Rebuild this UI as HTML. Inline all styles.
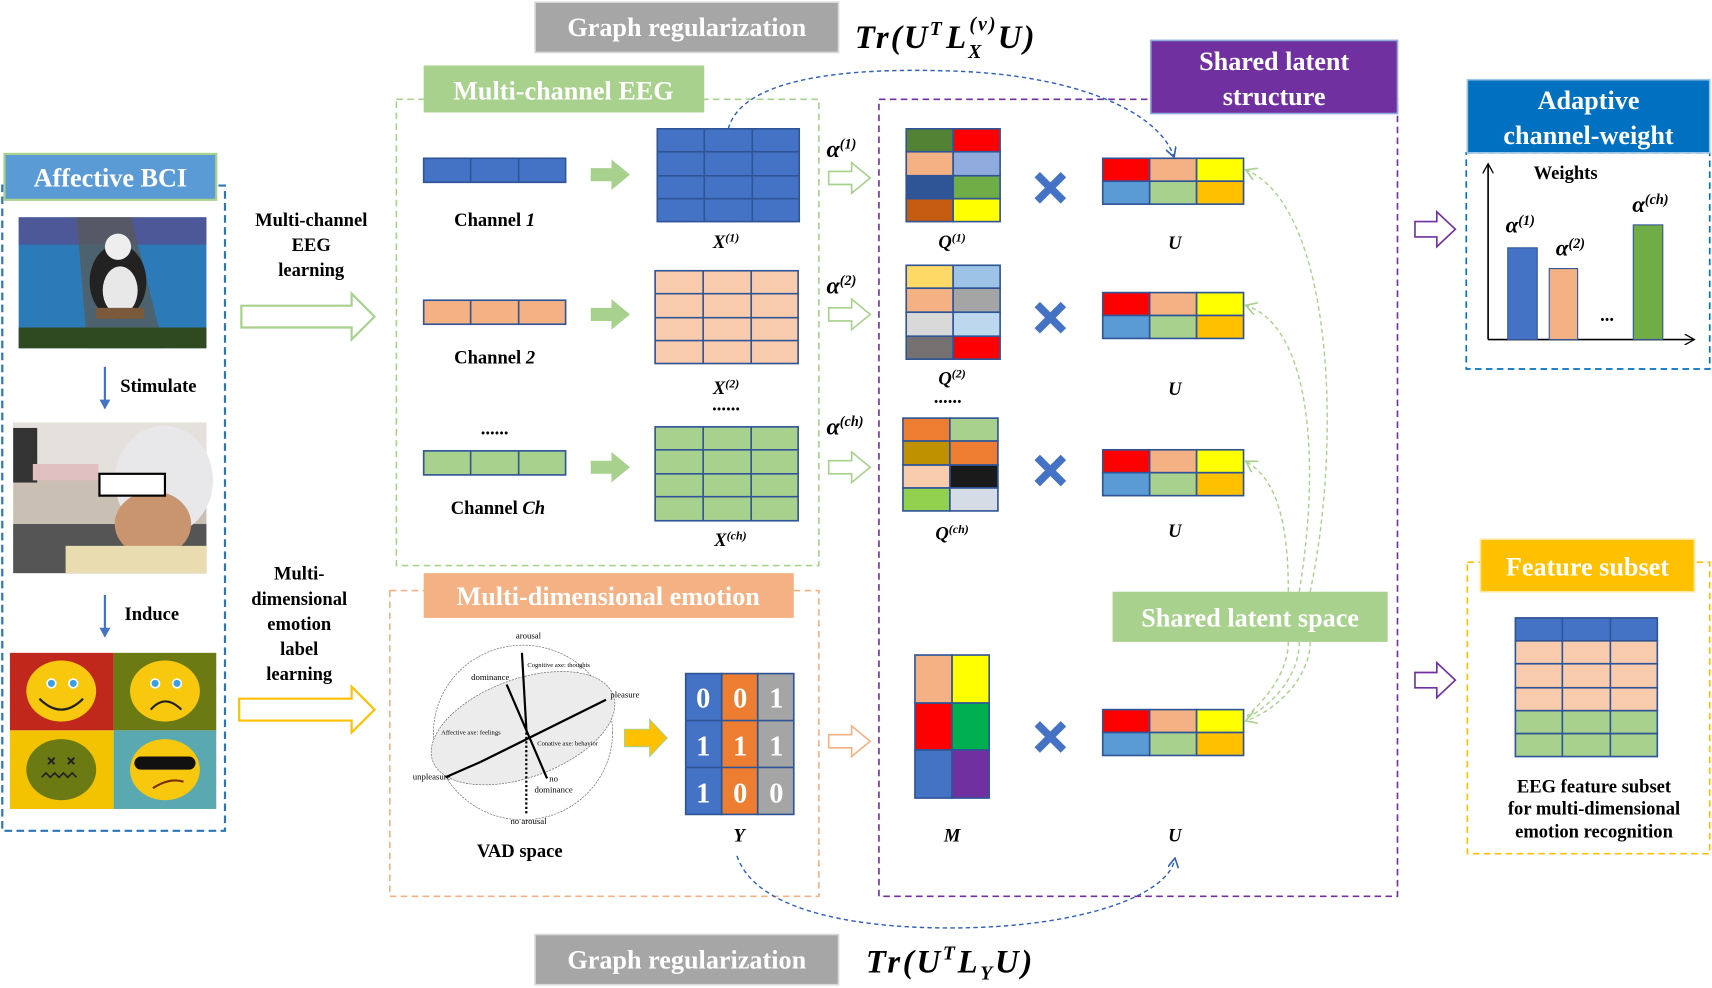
<!DOCTYPE html>
<html><head><meta charset="utf-8">
<style>
html,body{margin:0;padding:0;background:#fff;width:1712px;height:988px;overflow:hidden}
svg{display:block}
text{font-family:"Liberation Serif",serif;font-weight:bold}
.lbl{fill:#fff;font-size:24px}
.t{font-size:17px;fill:#000}
.it{font-style:italic}
</style></head><body>
<svg width="1712" height="988" viewBox="0 0 1568 905" xmlns="http://www.w3.org/2000/svg">
<defs>
<marker id="ab" markerWidth="10" markerHeight="10" refX="8" refY="5" orient="auto" markerUnits="userSpaceOnUse"><path d="M0,0 L9,5 L0,10" fill="none" stroke="#2f5fb8" stroke-width="1.5"/></marker>
<marker id="ag" markerWidth="12" markerHeight="12" refX="9" refY="6" orient="auto" markerUnits="userSpaceOnUse"><path d="M0,0 L10,6 L0,12" fill="none" stroke="#a9d18e" stroke-width="1.5"/></marker>
<marker id="ak" markerWidth="10" markerHeight="10" refX="8" refY="5" orient="auto" markerUnits="userSpaceOnUse"><path d="M0,0 L9,5 L0,10" fill="none" stroke="#000" stroke-width="1.2"/></marker>
<marker id="abl" markerWidth="10" markerHeight="10" refX="8" refY="5" orient="auto" markerUnits="userSpaceOnUse"><path d="M0,0 L9,5 L0,10 Z" fill="#4472c4"/></marker>
</defs>

<!-- Affective BCI -->
<rect x="2" y="170" width="204" height="591" fill="none" stroke="#2e75b6" stroke-width="2" stroke-dasharray="7,4"/>
<rect x="4" y="141" width="194" height="42" fill="#5b9bd5" stroke="#a9d18e" stroke-width="2"/>
<text x="101" y="171" text-anchor="middle" class="lbl">Affective BCI</text>
<!-- panda photo -->
<rect x="17" y="199" width="172" height="120" fill="#2c7ab8"/>
<rect x="17" y="199" width="172" height="25" fill="#5a4a8a" opacity=".7"/>
<path d="M70,199 L80,319 L150,319 L120,199 Z" fill="#5a5a50" opacity=".7"/>
<rect x="17" y="300" width="172" height="19" fill="#2f4a20"/>
<ellipse cx="108" cy="258" rx="26" ry="34" fill="#222"/>
<ellipse cx="110" cy="266" rx="16" ry="22" fill="#e8e8e8"/>
<circle cx="108" cy="226" r="12" fill="#eee"/>
<rect x="88" y="282" width="44" height="10" fill="#7a5a3a"/>
<line x1="96" y1="336" x2="96" y2="374" stroke="#4472c4" stroke-width="2" marker-end="url(#abl)"/>
<text x="145" y="359" text-anchor="middle" class="t">Stimulate</text>
<!-- eeg photo -->
<rect x="12" y="387" width="177" height="138" fill="#c9bfb2"/>
<rect x="12" y="387" width="177" height="50" fill="#e4e1dc"/>
<rect x="12" y="480" width="177" height="45" fill="#555"/>
<rect x="12" y="392" width="22" height="50" fill="#333"/>
<ellipse cx="150" cy="440" rx="45" ry="50" fill="#e8e8ea"/>
<ellipse cx="140" cy="480" rx="35" ry="30" fill="#c8956e"/>
<rect x="60" y="500" width="129" height="25" fill="#e8dcb0"/>
<rect x="30" y="425" width="60" height="15" fill="#e0c0c0"/>
<rect x="91" y="434" width="60" height="20" fill="#fff" stroke="#000" stroke-width="2"/>
<line x1="96" y1="545" x2="96" y2="583" stroke="#4472c4" stroke-width="2" marker-end="url(#abl)"/>
<text x="139" y="568" text-anchor="middle" class="t">Induce</text>
<!-- emoji -->
<rect x="9" y="598" width="95" height="71" fill="#c0281c"/>
<rect x="104" y="598" width="94" height="71" fill="#6b7a12"/>
<rect x="9" y="669" width="95" height="72" fill="#f3c200"/>
<rect x="104" y="669" width="94" height="72" fill="#5aa8b0"/>
<ellipse cx="56" cy="633" rx="32" ry="28" fill="#f7c80e"/>
<ellipse cx="151" cy="633" rx="32" ry="28" fill="#f7c80e"/>
<ellipse cx="56" cy="705" rx="32" ry="28" fill="#6b7a12"/>
<ellipse cx="151" cy="705" rx="32" ry="28" fill="#f7c80e"/>
<g fill="#3aa0e0" stroke="#fff" stroke-width="1.5">
<circle cx="47" cy="626" r="4"/><circle cx="67" cy="626" r="4"/>
<circle cx="142" cy="626" r="4"/><circle cx="162" cy="626" r="4"/>
</g>
<path d="M36,640 Q56,660 76,640" fill="none" stroke="#222" stroke-width="2"/>
<path d="M138,650 Q151,635 166,650" fill="none" stroke="#222" stroke-width="2"/>
<path d="M44,694 l6,6 m0,-6 l-6,6 M62,694 l6,6 m0,-6 l-6,6" stroke="#222" stroke-width="1.8"/>
<rect x="123" y="693" width="56" height="12" rx="6" fill="#111"/>
<path d="M38,712 l4,-4 l4,4 l4,-4 l4,4 l4,-4 l4,4 l4,-4 l4,4" fill="none" stroke="#222" stroke-width="1.5"/>
<path d="M140,722 Q155,712 168,716" fill="none" stroke="#7a3010" stroke-width="2"/>

<!-- learning texts -->
<text x="285" y="207" text-anchor="middle" class="t">Multi-channel</text>
<text x="285" y="230" text-anchor="middle" class="t">EEG</text>
<text x="285" y="253" text-anchor="middle" class="t">learning</text>
<path d="M221,280 H322 V269 L343,290 L322,311 V300 H221 Z" fill="#fff" stroke="#a9d18e" stroke-width="2"/>
<text x="274" y="531" text-anchor="middle" class="t">Multi-</text>
<text x="274" y="554" text-anchor="middle" class="t">dimensional</text>
<text x="274" y="577" text-anchor="middle" class="t">emotion</text>
<text x="274" y="600" text-anchor="middle" class="t">label</text>
<text x="274" y="623" text-anchor="middle" class="t">learning</text>
<path d="M219,640 H322 V629 L343,650 L322,671 V660 H219 Z" fill="#fff" stroke="#ffc000" stroke-width="2"/>

<!-- Multi-channel EEG box -->
<rect x="363" y="91" width="387" height="427" fill="none" stroke="#a9d18e" stroke-width="1.5" stroke-dasharray="6,4"/>
<rect x="388" y="60" width="257" height="43" fill="#a9d18e"/>
<text x="516" y="91" text-anchor="middle" class="lbl">Multi-channel EEG</text>
<g stroke="#2f5597" stroke-width="1.5">
<rect x="388" y="145" width="130" height="22" fill="#4472c4"/><line x1="431" y1="145" x2="431" y2="167"/><line x1="475" y1="145" x2="475" y2="167"/>
</g>
<g stroke="#2f5597" stroke-width="1.5">
<rect x="388" y="275" width="130" height="22" fill="#f4b183"/><line x1="431" y1="275" x2="431" y2="297"/><line x1="475" y1="275" x2="475" y2="297"/>
</g>
<g stroke="#2f5597" stroke-width="1.5">
<rect x="388" y="413" width="130" height="22" fill="#a9d18e"/><line x1="431" y1="413" x2="431" y2="435"/><line x1="475" y1="413" x2="475" y2="435"/>
</g>
<text x="453" y="207" text-anchor="middle" class="t">Channel <tspan class="it">1</tspan></text>
<text x="453" y="333" text-anchor="middle" class="t">Channel <tspan class="it">2</tspan></text>
<text x="453" y="398" text-anchor="middle" class="t">......</text>
<text x="456" y="471" text-anchor="middle" class="t">Channel <tspan class="it">Ch</tspan></text>
<g fill="#a9d18e">
<path d="M541,154 H560 V146 L577,160 L560,174 V166 H541 Z"/>
<path d="M541,282 H560 V274 L577,288 L560,302 V294 H541 Z"/>
<path d="M541,422 H560 V414 L577,428 L560,442 V434 H541 Z"/>
</g>
<!-- X matrices -->
<g stroke="#2f5597" stroke-width="1.5">
<rect x="602" y="118" width="130" height="85" fill="#4472c4"/>
<line x1="645" y1="118" x2="645" y2="203"/><line x1="689" y1="118" x2="689" y2="203"/>
<line x1="602" y1="139" x2="732" y2="139"/><line x1="602" y1="161" x2="732" y2="161"/><line x1="602" y1="182" x2="732" y2="182"/>
<rect x="600" y="248" width="131" height="85" fill="#f8cbad"/>
<line x1="644" y1="248" x2="644" y2="333"/><line x1="688" y1="248" x2="688" y2="333"/>
<line x1="600" y1="269" x2="731" y2="269"/><line x1="600" y1="291" x2="731" y2="291"/><line x1="600" y1="312" x2="731" y2="312"/>
<rect x="600" y="391" width="131" height="86" fill="#a9d18e"/>
<line x1="644" y1="391" x2="644" y2="477"/><line x1="688" y1="391" x2="688" y2="477"/>
<line x1="600" y1="412" x2="731" y2="412"/><line x1="600" y1="434" x2="731" y2="434"/><line x1="600" y1="455" x2="731" y2="455"/>
</g>
<text x="665" y="227" text-anchor="middle" class="t it">X<tspan font-size="11" dy="-6">(1)</tspan></text>
<text x="665" y="361" text-anchor="middle" class="t it">X<tspan font-size="11" dy="-6">(2)</tspan></text>
<text x="665" y="376" text-anchor="middle" class="t">......</text>
<text x="669" y="500" text-anchor="middle" class="t it">X<tspan font-size="11" dy="-6">(ch)</tspan></text>

<!-- Multi-dimensional emotion -->
<rect x="357" y="541" width="393" height="280" fill="none" stroke="#f4b183" stroke-width="1.5" stroke-dasharray="6,4"/>
<rect x="388" y="525" width="339" height="41" fill="#f4b183"/>
<text x="557" y="554" text-anchor="middle" class="lbl">Multi-dimensional emotion</text>
<!-- VAD -->
<g font-family="Liberation Sans,sans-serif" font-size="8" fill="#000">
<ellipse cx="479" cy="671" rx="82" ry="80" fill="none" stroke="#666" stroke-width="0.6" stroke-dasharray="2,1"/>
<ellipse cx="479" cy="667" rx="88" ry="45" transform="rotate(-20 479 667)" fill="#ececec" stroke="#666" stroke-width="0.6" stroke-dasharray="2,1"/>
<line x1="478" y1="598" x2="482" y2="667" stroke="#000" stroke-width="2"/>
<line x1="482" y1="667" x2="482" y2="745" stroke="#000" stroke-width="2" stroke-dasharray="2,2"/>
<line x1="440" y1="698" x2="555" y2="641" stroke="#000" stroke-width="2"/>
<line x1="440" y1="698" x2="408" y2="712" stroke="#000" stroke-width="2"/>
<line x1="464" y1="627" x2="501" y2="713" stroke="#000" stroke-width="2"/>
<text x="484" y="585" text-anchor="middle" style="font-weight:normal">arousal</text>
<text x="449" y="623" text-anchor="middle" style="font-weight:normal">dominance</text>
<text x="559" y="639" style="font-weight:normal">pleasure</text>
<text x="378" y="714" style="font-weight:normal">unpleasure</text>
<text x="507" y="716" text-anchor="middle" style="font-weight:normal">no</text>
<text x="507" y="726" text-anchor="middle" style="font-weight:normal">dominance</text>
<text x="484" y="755" text-anchor="middle" style="font-weight:normal">no arousal</text>
<text x="483" y="611" font-size="6" style="font-weight:normal">Cognitive axe: thoughts</text>
<text x="404" y="673" font-size="6" style="font-weight:normal">Affective axe: feelings</text>
<text x="492" y="683" font-size="6" style="font-weight:normal">Conative axe: behavior</text>
</g>
<text x="476" y="785" text-anchor="middle" class="t">VAD space</text>
<path d="M572,668 H595 V659 L611,676 L595,693 V684 H572 Z" fill="#ffc000" stroke="#a9d18e" stroke-width="1"/>
<!-- Y matrix -->
<g stroke="#2f5597" stroke-width="1.5">
<rect x="628" y="617" width="33" height="129" fill="#4472c4"/>
<rect x="661" y="617" width="33" height="129" fill="#ed7d31"/>
<rect x="694" y="617" width="33" height="129" fill="#a5a5a5"/>
<line x1="628" y1="660" x2="727" y2="660"/><line x1="628" y1="703" x2="727" y2="703"/>
</g>
<g fill="#fff" font-size="26" text-anchor="middle">
<text x="644" y="648">0</text><text x="678" y="648">0</text><text x="711" y="648">1</text>
<text x="644" y="692">1</text><text x="678" y="692">1</text><text x="711" y="692">1</text>
<text x="644" y="735">1</text><text x="678" y="735">0</text><text x="711" y="735">0</text>
</g>
<text x="677" y="771" text-anchor="middle" class="t it">Y</text>

<!-- alphas -->
<text x="757" y="144" class="it" font-size="22">α<tspan font-size="13" dy="-8">(1)</tspan></text>
<text x="757" y="269" class="it" font-size="22">α<tspan font-size="13" dy="-8">(2)</tspan></text>
<text x="757" y="398" class="it" font-size="22">α<tspan font-size="13" dy="-8">(ch)</tspan></text>
<g fill="#fff" stroke="#a9d18e" stroke-width="1.5">
<path d="M759,157 H780 V149 L797,163 L780,177 V169 H759 Z"/>
<path d="M759,282 H780 V274 L797,288 L780,302 V294 H759 Z"/>
<path d="M759,422 H780 V414 L797,428 L780,442 V434 H759 Z"/>
</g>
<path d="M759,673 H780 V665 L797,679 L780,693 V685 H759 Z" fill="#fff" stroke="#f4b183" stroke-width="1.5"/>

<!-- Shared latent structure -->
<rect x="805" y="91" width="475" height="730" fill="none" stroke="#7030a0" stroke-width="1.5" stroke-dasharray="6,4"/>
<rect x="1054" y="37" width="226" height="67" fill="#7030a0" stroke="#8faadc" stroke-width="1.5"/>
<text x="1167" y="64" text-anchor="middle" class="lbl">Shared latent</text>
<text x="1167" y="96" text-anchor="middle" class="lbl">structure</text>

<!-- Q matrices -->
<g stroke="#2f5597" stroke-width="1.5">
<rect x="830" y="118" width="43" height="21" fill="#548235"/><rect x="873" y="118" width="43" height="21" fill="#ff0000"/>
<rect x="830" y="139" width="43" height="22" fill="#f4b183"/><rect x="873" y="139" width="43" height="22" fill="#8faadc"/>
<rect x="830" y="161" width="43" height="21" fill="#2f5597"/><rect x="873" y="161" width="43" height="21" fill="#70ad47"/>
<rect x="830" y="182" width="43" height="21" fill="#c55a11"/><rect x="873" y="182" width="43" height="21" fill="#ffff00"/>

<rect x="830" y="243" width="43" height="21" fill="#ffd966"/><rect x="873" y="243" width="43" height="21" fill="#9dc3e6"/>
<rect x="830" y="264" width="43" height="22" fill="#f4b183"/><rect x="873" y="264" width="43" height="22" fill="#a5a5a5"/>
<rect x="830" y="286" width="43" height="22" fill="#d9d9d9"/><rect x="873" y="286" width="43" height="22" fill="#bdd7ee"/>
<rect x="830" y="308" width="43" height="21" fill="#767171"/><rect x="873" y="308" width="43" height="21" fill="#ff0000"/>

<rect x="827" y="383" width="43" height="21" fill="#ed7d31"/><rect x="870" y="383" width="44" height="21" fill="#a9d18e"/>
<rect x="827" y="404" width="43" height="22" fill="#bf9000"/><rect x="870" y="404" width="44" height="22" fill="#ed7d31"/>
<rect x="827" y="426" width="43" height="21" fill="#f8cbad"/><rect x="870" y="426" width="44" height="21" fill="#1a1a1a"/>
<rect x="827" y="447" width="43" height="21" fill="#92d050"/><rect x="870" y="447" width="44" height="21" fill="#d6dce5"/>

<rect x="838" y="600" width="34" height="44" fill="#f4b183"/><rect x="872" y="600" width="34" height="44" fill="#ffff00"/>
<rect x="838" y="644" width="34" height="43" fill="#ff0000"/><rect x="872" y="644" width="34" height="43" fill="#00b050"/>
<rect x="838" y="687" width="34" height="44" fill="#4472c4"/><rect x="872" y="687" width="34" height="44" fill="#7030a0"/>
</g>
<text x="872" y="227" text-anchor="middle" class="t it">Q<tspan font-size="11" dy="-6">(1)</tspan></text>
<text x="872" y="352" text-anchor="middle" class="t it">Q<tspan font-size="11" dy="-6">(2)</tspan></text>
<text x="868" y="369" text-anchor="middle" class="t">......</text>
<text x="872" y="494" text-anchor="middle" class="t it">Q<tspan font-size="11" dy="-6">(ch)</tspan></text>
<text x="872" y="771" text-anchor="middle" class="t it">M</text>

<!-- multiply signs -->
<g stroke="#4472c4" stroke-width="7" stroke-linecap="butt">
<path d="M950,160 L974,184 M974,160 L950,184"/>
<path d="M950,279 L974,303 M974,279 L950,303"/>
<path d="M950,419 L974,443 M974,419 L950,443"/>
<path d="M950,663 L974,687 M974,663 L950,687"/>
</g>

<!-- U matrices -->
<g stroke="#2f5597" stroke-width="1.5">
<g id="u1">
<rect x="1010" y="145" width="43" height="21" fill="#ff0000"/><rect x="1053" y="145" width="43" height="21" fill="#f4b183"/><rect x="1096" y="145" width="43" height="21" fill="#ffff00"/>
<rect x="1010" y="166" width="43" height="21" fill="#5b9bd5"/><rect x="1053" y="166" width="43" height="21" fill="#a9d18e"/><rect x="1096" y="166" width="43" height="21" fill="#ffc000"/>
</g>
<use href="#u1" y="123"/>
<use href="#u1" y="267"/>
<use href="#u1" y="505"/>
</g>
<g text-anchor="middle">
<text x="1076" y="228" class="t it">U</text>
<text x="1076" y="362" class="t it">U</text>
<text x="1076" y="492" class="t it">U</text>
<text x="1076" y="771" class="t it">U</text>
</g>

<!-- Shared latent space -->
<g fill="none" stroke="#a9d18e" stroke-width="1.3" stroke-dasharray="4,3">
<path d="M1200,542 C1230,400 1220,190 1142,156" marker-end="url(#ag)"/>
<path d="M1190,542 C1210,420 1200,300 1142,280" marker-end="url(#ag)"/>
<path d="M1180,542 C1180,480 1170,440 1142,423" marker-end="url(#ag)"/>
<path d="M1200,588 C1200,620 1170,650 1142,660" marker-end="url(#ag)"/>
<path d="M1190,588 C1190,620 1165,645 1142,658" />
<path d="M1180,588 C1180,615 1160,640 1142,656" />
</g>
<rect x="1019" y="542" width="252" height="46" fill="#a9d18e"/>
<text x="1145" y="574" text-anchor="middle" class="lbl">Shared latent space</text>

<!-- Graph regularization -->
<rect x="490" y="2" width="278" height="46" fill="#a6a6a6" stroke="#d9d9d9" stroke-width="1.5"/>
<text x="629" y="33" text-anchor="middle" class="lbl">Graph regularization</text>
<text x="783" y="44" font-size="30" class="it" letter-spacing="2">Tr(U<tspan font-size="18" dy="-12">T</tspan><tspan dy="12" dx="2">L</tspan><tspan font-size="18" dy="9">X</tspan><tspan font-size="18" dx="-13" dy="-25">(v)</tspan><tspan dy="16">U)</tspan></text>
<rect x="490" y="856" width="278" height="46" fill="#a6a6a6" stroke="#d9d9d9" stroke-width="1.5"/>
<text x="629" y="887" text-anchor="middle" class="lbl">Graph regularization</text>
<text x="793" y="891" font-size="30" class="it" letter-spacing="2.5">Tr(U<tspan font-size="18" dy="-12">T</tspan><tspan dy="12">L</tspan><tspan font-size="18" dy="6">Y</tspan><tspan dy="-6">U)</tspan></text>

<!-- blue dashed curves -->
<g fill="none" stroke="#2f5fb8" stroke-width="1.3" stroke-dasharray="4,3">
<path d="M667,118 C680,70 780,62 870,65 C980,68 1060,100 1075,143" marker-end="url(#ab)"/>
<path d="M675,784 C690,830 770,850 870,850 C990,850 1070,820 1076,787" marker-end="url(#ab)"/>
</g>

<!-- Adaptive channel weight -->
<rect x="1343" y="140" width="223" height="198" fill="none" stroke="#0070c0" stroke-width="1.5" stroke-dasharray="6,4"/>
<rect x="1344" y="73" width="222" height="67" fill="#0070c0" stroke="#9dc3e6" stroke-width="1.5"/>
<text x="1455" y="100" text-anchor="middle" class="lbl">Adaptive</text>
<text x="1455" y="132" text-anchor="middle" class="lbl">channel-weight</text>
<line x1="1363" y1="311" x2="1363" y2="151" stroke="#000" stroke-width="1.5" marker-end="url(#ak)"/>
<line x1="1363" y1="311" x2="1551" y2="311" stroke="#000" stroke-width="1.5" marker-end="url(#ak)"/>
<rect x="1381" y="227" width="27" height="84" fill="#4472c4" stroke="#2f5597"/>
<rect x="1419" y="246" width="26" height="65" fill="#f4b183" stroke="#2f5597"/>
<rect x="1496" y="206" width="27" height="105" fill="#70ad47" stroke="#2f5597"/>
<text x="1434" y="164" text-anchor="middle" class="t" font-size="16">Weights</text>
<text x="1379" y="213" class="it" font-size="21">α<tspan font-size="13" dy="-7">(1)</tspan></text>
<text x="1425" y="234" class="it" font-size="21">α<tspan font-size="13" dy="-7">(2)</tspan></text>
<text x="1495" y="194" class="it" font-size="21">α<tspan font-size="13" dy="-7">(ch)</tspan></text>
<text x="1472" y="294" text-anchor="middle" class="t">...</text>

<g fill="#fff" stroke="#7030a0" stroke-width="1.5">
<path d="M1296,203 H1316 V194 L1333,210 L1316,226 V217 H1296 Z"/>
<path d="M1296,616 H1316 V607 L1333,623 L1316,639 V630 H1296 Z"/>
</g>

<!-- Feature subset -->
<rect x="1344" y="515" width="222" height="267" fill="none" stroke="#ffc000" stroke-width="1.5" stroke-dasharray="6,4"/>
<rect x="1356" y="494" width="196" height="48" fill="#ffc000" stroke="#ffe699" stroke-width="1.5"/>
<text x="1454" y="527" text-anchor="middle" class="lbl">Feature subset</text>
<g stroke="#2f5597" stroke-width="1.5">
<rect x="1388" y="566" width="130" height="21" fill="#4472c4"/>
<rect x="1388" y="587" width="130" height="21" fill="#f8cbad"/>
<rect x="1388" y="608" width="130" height="22" fill="#f8cbad"/>
<rect x="1388" y="630" width="130" height="21" fill="#f8cbad"/>
<rect x="1388" y="651" width="130" height="21" fill="#a9d18e"/>
<rect x="1388" y="672" width="130" height="21" fill="#a9d18e"/>
<line x1="1431" y1="566" x2="1431" y2="693"/><line x1="1475" y1="566" x2="1475" y2="693"/>
</g>
<text x="1460" y="726" text-anchor="middle" class="t" font-size="15">EEG feature subset</text>
<text x="1460" y="746" text-anchor="middle" class="t" font-size="15">for multi-dimensional</text>
<text x="1460" y="767" text-anchor="middle" class="t" font-size="15">emotion recognition</text>
</svg>
</body></html>
